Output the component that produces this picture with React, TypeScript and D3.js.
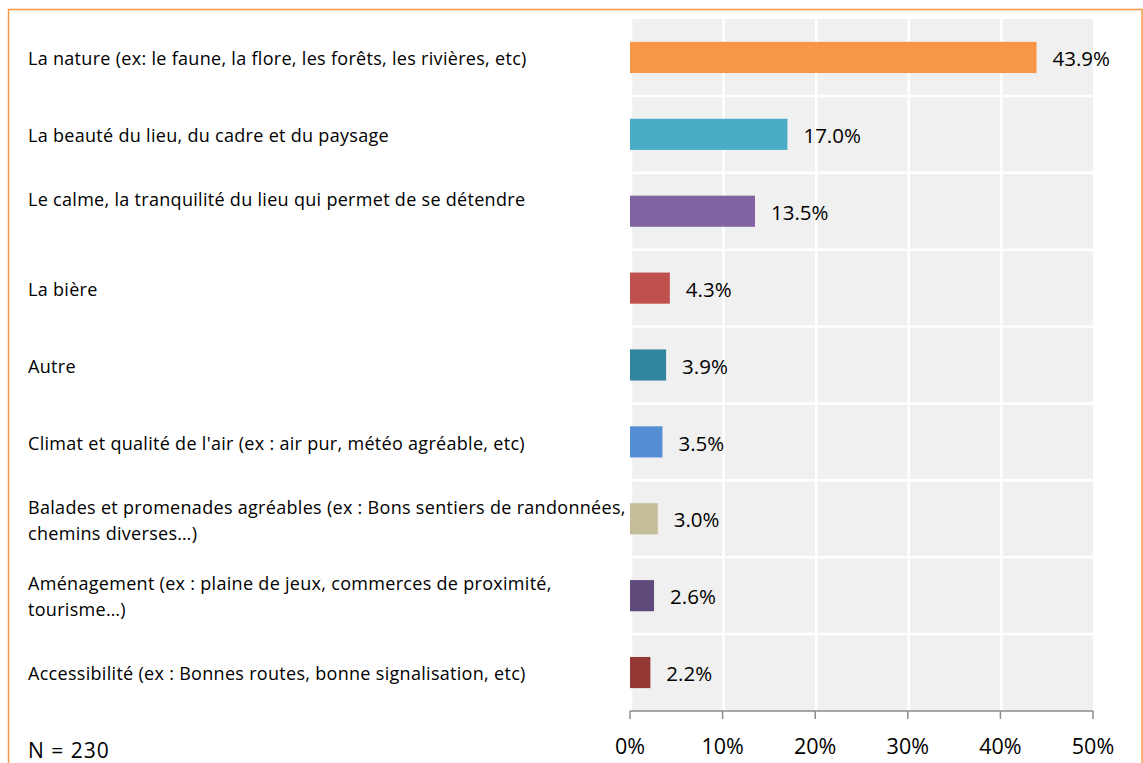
import React from "react";
import * as d3 from "d3";

const categories: string[][] = [
  ["La nature (ex: le faune, la flore, les forêts, les rivières, etc)"],
  ["La beauté du lieu, du cadre et du paysage"],
  ["Le calme, la tranquilité du lieu qui permet de se détendre", ""],
  ["La bière"],
  ["Autre"],
  ["Climat et qualité de l'air (ex : air pur, météo agréable, etc)"],
  ["Balades et promenades agréables (ex : Bons sentiers de randonnées,", "chemins diverses…)"],
  ["Aménagement (ex : plaine de jeux, commerces de proximité,", "tourisme…)"],
  ["Accessibilité (ex : Bonnes routes, bonne signalisation, etc)"],
];
const values: number[] = [43.9, 17.0, 13.5, 4.3, 3.9, 3.5, 3.0, 2.6, 2.2];
const colors: string[] = [
  "#F79646", "#4BACC6", "#8064A2", "#C0504D", "#31859C",
  "#558ED5", "#C4BD97", "#604A7B", "#953735",
];
const ticks: number[] = [0, 10, 20, 30, 40, 50];
const note = "N = 230";

const W = 1143;
const H = 763;
const FONT = "'Open Sans', sans-serif";

export default function App() {
  const x = d3.scaleLinear().domain([0, 50]).range([630, 1093]);
  const idx = values.map((_, i) => i);
  const y = d3.scaleBand<number>().domain(idx).range([19, 711]).paddingInner(0).paddingOuter(0);
  const bw = y.bandwidth();
  const barH = bw * 0.405;
  const lineH = 26;

  return (
    <svg width={W} height={H} style={{ position: "absolute", left: 0, top: 0, background: "#fff" }}>
      <rect x={8.5} y={9.5} width={1133.5} height={H + 20} fill="none" stroke="#F79646" strokeWidth={1.5} />
      <rect x={x(0)} y={19} width={x(50) - x(0)} height={711 - 19} fill="#F0F0F0" />
      {ticks.slice(0, -1).map((t) => (
        <line key={"g" + t} x1={x(t) + 1} x2={x(t) + 1} y1={19} y2={711} stroke="#fff" strokeWidth={2.5} />
      ))}
      {idx.slice(1).map((i) => (
        <line key={"h" + i} x1={x(0)} x2={x(50)} y1={y(i)!} y2={y(i)!} stroke="#fff" strokeWidth={2.5} />
      ))}
      {idx.map((i) => {
        const cy = y(i)! + bw / 2;
        return (
          <g key={"b" + i}>
            <rect x={x(0)} y={cy - barH / 2} width={x(values[i]) - x(0)} height={barH} fill={colors[i]} />
            <text x={x(values[i]) + 16} y={cy + 1.5} dy="0.35em" fontFamily={FONT} fontSize={20.5} fill="#000">
              {values[i].toFixed(1) + "%"}
            </text>
            {categories[i].map((ln, k) => (
              <text
                key={k}
                x={28}
                y={cy + 1.5 + (k - (categories[i].length - 1) / 2) * lineH}
                dy="0.35em"
                fontFamily={FONT}
                fontSize={18}
                letterSpacing={0.3}
                fill="#000"
              >
                {ln}
              </text>
            ))}
          </g>
        );
      })}
      <line x1={x(0)} x2={x(50)} y1={711} y2={711} stroke="#8C8C8C" strokeWidth={1.5} />
      {ticks.map((t) => (
        <g key={"t" + t}>
          <line x1={x(t)} x2={x(t)} y1={711} y2={719} stroke="#8C8C8C" strokeWidth={1.5} />
          <text x={x(t)} y={746} dy="0.35em" textAnchor="middle" fontFamily={FONT} fontSize={21.5} fill="#000">
            {t + "%"}
          </text>
        </g>
      ))}
      <text x={28} y={751} dy="0.35em" fontFamily={FONT} fontSize={21} letterSpacing={1} fill="#000">
        {note}
      </text>
    </svg>
  );
}
